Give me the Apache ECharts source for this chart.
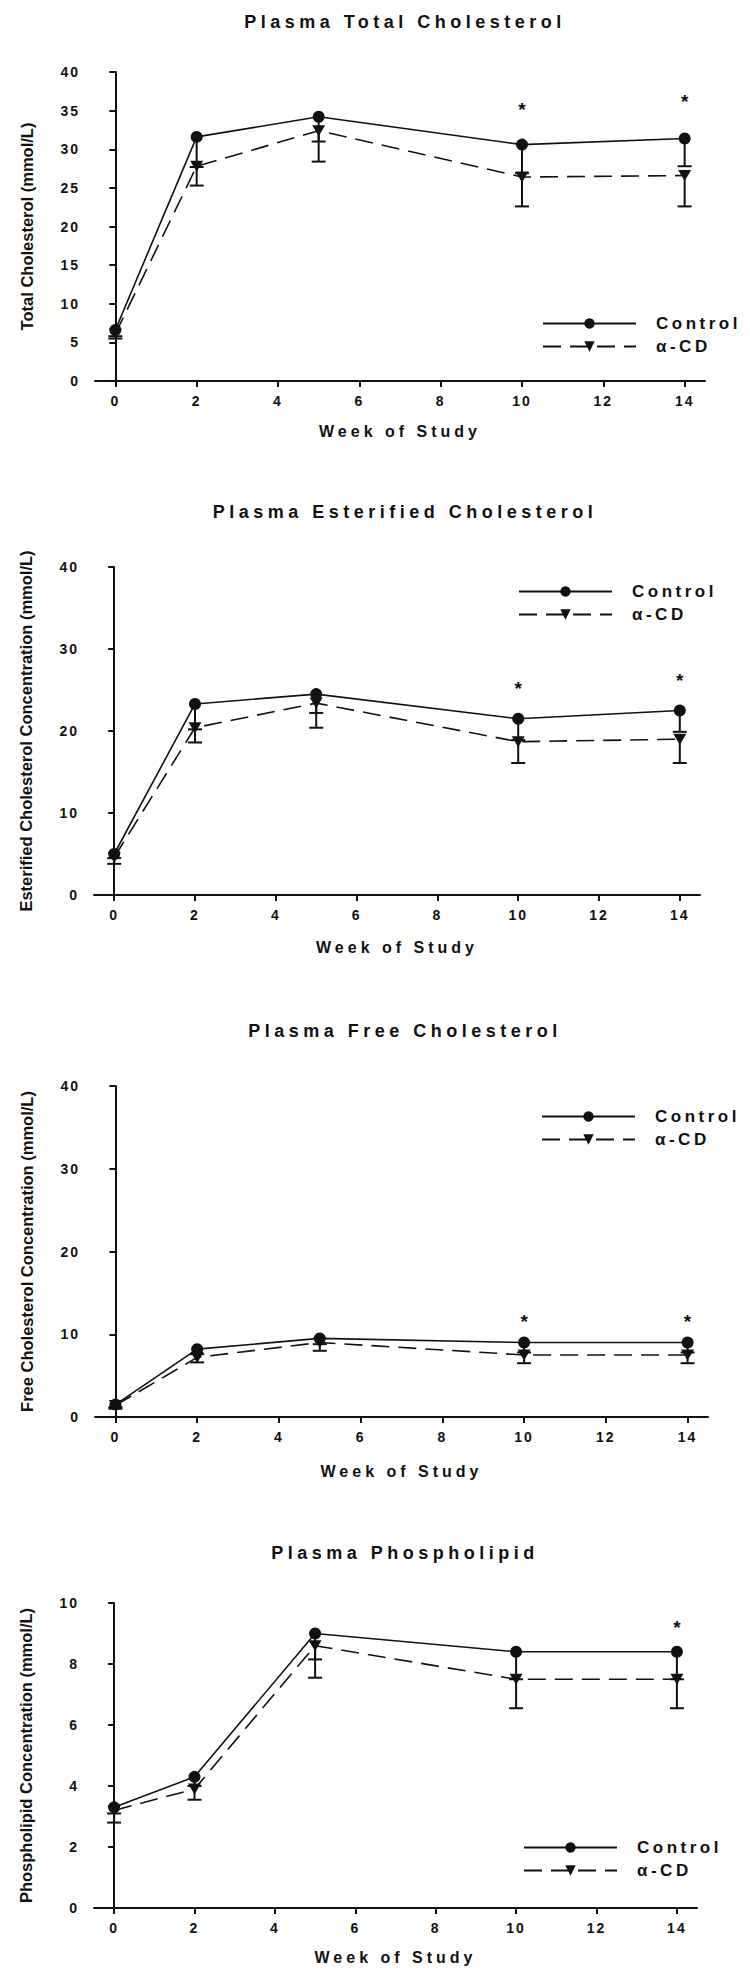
<!DOCTYPE html>
<html>
<head>
<meta charset="utf-8">
<script src="https://cdn.jsdelivr.net/npm/echarts@6/dist/echarts.min.js"></script>
<style>
html,body{margin:0;padding:0;background:#fff;}
#c{width:750px;height:1980px;}
#c text[style*="18px"]{letter-spacing:4.5px;}
#c text[style*="16px"]{letter-spacing:4px;}
#c text[style*="17px"]{letter-spacing:3.5px;}
#c text[style*="14px"]{letter-spacing:2px;}
</style>
</head>
<body>
<div id="c"></div>
<script>
// ---------- data ----------
const weeks = [0, 2, 5, 10, 14];
const xTickValues = [0, 2, 4, 6, 8, 10, 12, 14];
const seriesNames = ['Control', 'α-CD'];

const panelTitles = ['Plasma Total Cholesterol', 'Plasma Esterified Cholesterol', 'Plasma Free Cholesterol', 'Plasma Phospholipid'];
const yAxisNames = ['Total Cholesterol (mmol/L)', 'Esterified Cholesterol Concentration (mmol/L)', 'Free Cholesterol Concentration (mmol/L)', 'Phospholipid Concentration (mmol/L)'];
const xAxisName = 'Week of Study';
const yMaxs = [40, 40, 40, 10];
const yIntervals = [5, 10, 10, 2];

// Panel 1: total cholesterol
const totalControl   = [6.6, 31.6, 34.2, 30.6, 31.4];
const totalControlSD = [0.8, 3.9, 3.2, 3.7, 3.6];
const totalAcd       = [6.1, 27.8, 32.4, 26.4, 26.6];
const totalAcdSD     = [0.6, 2.5, 4.0, 3.8, 4.0];
const totalStars     = [[10, 35.2], [14, 36.2]];

// Panel 2: esterified cholesterol
const esterControl   = [5.0, 23.3, 24.5, 21.5, 22.5];
const esterControlSD = [0.5, 3.1, 2.3, 2.6, 2.6];
const esterAcd       = [4.6, 20.4, 23.4, 18.7, 19.0];
const esterAcdSD     = [0.8, 1.8, 3.0, 2.6, 2.9];
const esterStars     = [[10, 25.2], [14, 26.2]];

// Panel 3: free cholesterol
const freeControl   = [1.5, 8.2, 9.5, 9.0, 9.0];
const freeControlSD = [0.3, 0.6, 0.7, 1.2, 1.2];
const freeAcd       = [1.4, 7.2, 9.0, 7.5, 7.5];
const freeAcdSD     = [0.4, 0.6, 1.0, 1.0, 1.0];
const freeStars     = [[10, 11.5], [14, 11.5]];

// Panel 4: phospholipid
const phosControl   = [3.3, 4.3, 9.0, 8.4, 8.4];
const phosControlSD = [0.2, 0.3, 0.85, 0.9, 0.9];
const phosAcd       = [3.2, 3.9, 8.6, 7.5, 7.5];
const phosAcdSD     = [0.4, 0.35, 1.05, 0.95, 0.95];
const phosStars     = [[14, 9.2]];

// ---------- layout ----------
const panels = [
  {ctl: totalControl, ctlSD: totalControlSD, acd: totalAcd, acdSD: totalAcdSD, stars: totalStars,
   grid: {left: 95, top: 72, width: 610, height: 309}, titleY: 8, legend: {left: 537, top: 310}, nameGap: 42},
  {ctl: esterControl, ctlSD: esterControlSD, acd: esterAcd, acdSD: esterAcdSD, stars: esterStars,
   grid: {left: 94, top: 567, width: 606, height: 328}, titleY: 498, legend: {left: 513, top: 578}, nameGap: 44},
  {ctl: freeControl, ctlSD: freeControlSD, acd: freeAcd, acdSD: freeAcdSD, stars: freeStars,
   grid: {left: 95, top: 1086, width: 613, height: 331}, titleY: 1017, legend: {left: 536, top: 1103}, nameGap: 46},
  {ctl: phosControl, ctlSD: phosControlSD, acd: phosAcd, acdSD: phosAcdSD, stars: phosStars,
   grid: {left: 94, top: 1603, width: 603, height: 305}, titleY: 1539, legend: {left: 518, top: 1834}, nameGap: 41}
];

const INK = '#111';
const FONT = '"Liberation Sans", Arial, sans-serif';

function errRender(params, api) {
  const x = api.value(0), m = api.value(1), sd = api.value(2);
  const p1 = api.coord([x, m]);
  const p2 = api.coord([x, m - sd]);
  const hw = 7;
  return {
    type: 'group',
    children: [
      {type: 'line', shape: {x1: p1[0], y1: p1[1], x2: p2[0], y2: p2[1]}, style: {stroke: INK, lineWidth: 2}},
      {type: 'line', shape: {x1: p2[0] - hw, y1: p2[1], x2: p2[0] + hw, y2: p2[1]}, style: {stroke: INK, lineWidth: 2}}
    ]
  };
}
function starRender(params, api) {
  const p = api.coord([api.value(0), api.value(1)]);
  return {type: 'text', x: p[0], y: p[1],
    style: {text: '*', fill: INK, font: 'bold 19px ' + FONT, align: 'center', verticalAlign: 'middle'}};
}

const option = {
  backgroundColor: '#fff',
  animation: false,
  title: [], grid: [], xAxis: [], yAxis: [], legend: [], series: []
};

panels.forEach((p, i) => {
  option.title.push({
    text: panelTitles[i], left: 400, top: p.titleY, textAlign: 'center',
    textStyle: {fontFamily: FONT, fontSize: 18, fontWeight: 'bold', color: INK}
  });
  option.grid.push(Object.assign({containLabel: false}, p.grid));
  option.xAxis.push({
    type: 'value', gridIndex: i, min: -0.5, max: 14.5,
    name: xAxisName, nameLocation: 'middle', nameGap: p.nameGap,
    nameTextStyle: {fontFamily: FONT, fontSize: 16, fontWeight: 'bold', color: INK},
    splitLine: {show: false},
    axisLine: {show: true, lineStyle: {color: INK, width: 2}},
    axisTick: {show: true, customValues: xTickValues, length: 6, lineStyle: {color: INK, width: 2}},
    axisLabel: {show: true, customValues: xTickValues, margin: 13, fontFamily: FONT, fontSize: 14, fontWeight: 'bold', color: INK}
  });
  option.yAxis.push({
    type: 'value', gridIndex: i, min: 0, max: yMaxs[i], interval: yIntervals[i],
    name: yAxisNames[i], nameLocation: 'middle', nameGap: 60, nameRotate: 90,
    nameTextStyle: {fontFamily: FONT, fontSize: 16.5, fontWeight: 'bold', color: INK},
    splitLine: {show: false},
    axisLine: {show: true, lineStyle: {color: INK, width: 2}},
    axisTick: {show: true, length: 6, lineStyle: {color: INK, width: 2}},
    axisLabel: {margin: 15, fontFamily: FONT, fontSize: 14, fontWeight: 'bold', color: INK}
  });
  option.legend.push({
    orient: 'vertical', left: p.legend.left, top: p.legend.top,
    data: seriesNames, itemWidth: 93, itemHeight: 13, itemGap: 6,
    selectedMode: false,
    textStyle: {fontFamily: FONT, fontSize: 17, fontWeight: 'bold', color: INK, padding: [0, 0, 0, 15]}
  });
  option.series.push({
    type: 'custom', name: 'ctlErr', xAxisIndex: i, yAxisIndex: i, renderItem: errRender, z: 1,
    data: weeks.map((w, k) => [w, p.ctl[k], p.ctlSD[k]])
  });
  option.series.push({
    type: 'custom', name: 'acdErr', xAxisIndex: i, yAxisIndex: i, renderItem: errRender, z: 1,
    data: weeks.map((w, k) => [w, p.acd[k], p.acdSD[k]])
  });
  option.series.push({
    type: 'line', name: seriesNames[0], xAxisIndex: i, yAxisIndex: i, z: 3,
    data: weeks.map((w, k) => [w, p.ctl[k]]),
    symbol: 'circle', symbolSize: 12,
    itemStyle: {color: INK},
    lineStyle: {color: INK, width: 1.6, type: 'solid'}
  });
  option.series.push({
    type: 'line', name: seriesNames[1], xAxisIndex: i, yAxisIndex: i, z: 2,
    data: weeks.map((w, k) => [w, p.acd[k]]),
    symbol: 'triangle', symbolRotate: 180, symbolSize: [13, 11],
    itemStyle: {color: INK},
    lineStyle: {color: INK, width: 1.6, type: [18, 9]}
  });
  option.series.push({
    type: 'custom', name: 'stars', xAxisIndex: i, yAxisIndex: i, renderItem: starRender, z: 4,
    data: p.stars
  });
});

const chart = echarts.init(document.getElementById('c'), null, {renderer: 'svg', width: 750, height: 1980});
chart.setOption(option);
</script>
</body>
</html>
